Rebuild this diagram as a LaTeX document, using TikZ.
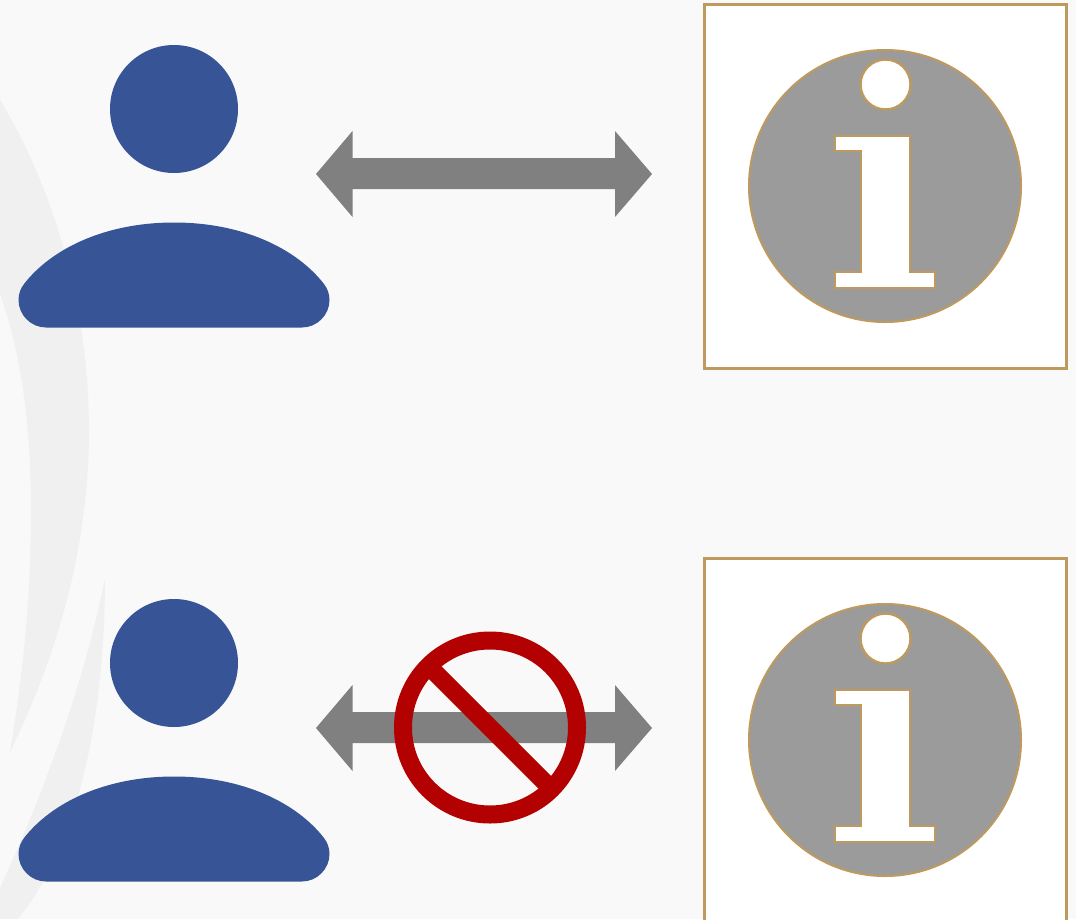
\documentclass[tikz,border=0pt]{standalone}
\definecolor{pagebg}{HTML}{F9F9F9}
\definecolor{swoosh}{HTML}{F0F0F0}
\definecolor{personblue}{HTML}{375596}
\definecolor{arrowgray}{HTML}{808080}
\definecolor{infogray}{HTML}{9B9B9B}
\definecolor{infoedge}{HTML}{BE9A5E}
\definecolor{banred}{HTML}{B30000}
\tikzset{
  person/.style={fill=personblue,draw=none},
  bigarrow/.style={fill=arrowgray,draw=none},
  infoframe/.style={fill=white,draw=infoedge,line width=3pt},
  infodisc/.style={fill=infogray,draw=infoedge,line width=2pt},
  infoglyph/.style={fill=white,draw=infoedge,line width=2.4pt,miter limit=10},
  banmark/.style={draw=banred,line width=18pt},
  person icon/.pic={
    \fill[person] (174,109) circle[radius=64];
    \fill[person] (46,327.5) -- (302,327.5)
      .. controls (317,327.5) and (329.5,315) .. (329.5,300)
      .. controls (329.5,294) and (327.5,288.5) .. (324,284)
      .. controls (296,248) and (242,222.5) .. (174,222.5)
      .. controls (106,222.5) and (52,248) .. (24,284)
      .. controls (20.5,288.5) and (18.5,294) .. (18.5,300)
      .. controls (18.5,315) and (31,327.5) .. (46,327.5) -- cycle;
  },
  double arrow/.pic={
    \fill[bigarrow] (316,174) -- (352.5,131) -- (352.5,158) -- (615,158) -- (615,131)
      -- (652,174) -- (615,217) -- (615,189) -- (352.5,189) -- (352.5,217) -- cycle;
  },
  info icon/.pic={
    \draw[infoframe] (704.5,4.5) rectangle (1066.5,368);
    \draw[infodisc] (885,186) circle[radius=136];
    \draw[infoglyph] (885.5,84.5) circle[radius=25];
    \draw[infoglyph] (835,136) -- (910,136) -- (910,272) -- (935,272) -- (935,288)
      -- (835,288) -- (835,272) -- (861,272) -- (861,151) -- (835,151) -- cycle;
  }
}
\begin{document}
\begin{tikzpicture}[x=1pt,y=-1pt]
\useasboundingbox (0,0) rectangle (1076,919);
\clip (0,0) rectangle (1076,919);
\fill[pagebg] (0,0) rectangle (1076,919);
% background swooshes
\fill[swoosh] (0,100) .. controls (55,190) and (89,310) .. (89,430)
  .. controls (89,560) and (50,670) .. (10,752)
  .. controls (25,660) and (31,590) .. (31,510)
  .. controls (31,420) and (20,350) .. (0,294) -- cycle;
\fill[swoosh] (105,578) .. controls (105,680) and (90,830) .. (18,919) -- (0,919) -- (0,888)
  .. controls (45,790) and (85,680) .. (105,578) -- cycle;
% top row
\pic {person icon};
\pic {double arrow};
\pic {info icon};
% bottom row
\pic[yshift=-554pt] {person icon};
\pic[yshift=-554pt] {double arrow};
\pic[yshift=-554pt] {info icon};
% prohibition sign
\draw[banmark] (490,727.5) circle[radius=87];
\draw[banmark] (428.5,666) -- (551.5,789);
\end{tikzpicture}
\end{document}
